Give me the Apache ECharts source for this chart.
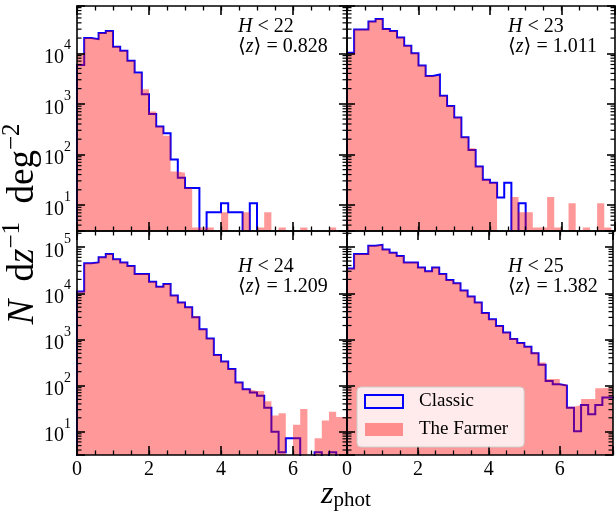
<!DOCTYPE html>
<html><head><meta charset="utf-8">
<script src="https://cdn.jsdelivr.net/npm/echarts@6/dist/echarts.min.js"></script>
<style>html,body{margin:0;padding:0;background:#fff}#c{width:616px;height:512px}</style>
</head><body><div id="c"></div>
<script>
// ---- data: histogram bins start at 0, width 0.2 (values in N dz^-1 deg^-2) ----
const binStart = 0;
const binWidth = 0.2;
const magCuts = ['22', '23', '24', '25'];
const meanZ = ['0.828', '1.011', '1.209', '1.382'];
const xTickLabels = ['0', '2', '4', '6'];

const classicH22 = [5890,19950,19050,25120,27540,13490,11220,7080,4170,1550,631,355,263,79.4,34.7,21.6,21.6,0,7.2,7.2,10.8,7.2,7.2,0,10.8,0,0,0,0,0,0,0,0,0,0,0,0,0];
const farmerH22  = [10000,19950,19050,25120,27540,13490,11220,7080,3980,1950,708,355,234,45.7,43.6,21.6,3.6,3.6,3.6,0,7.2,0,0,7.2,0,3.6,7.2,0,3.6,0,0,3.6,0,0,0,3.6,0,0];

const classicH23 = [10230,29510,29510,42660,47860,30200,27540,20420,14130,10000,5750,3550,3800,1445,912,537,219,123,57.5,31.6,27.5,14.1,27.5,0,10.8,0,0,0,0,0,0,0,0,0,0,0,0,0];
const farmerH23  = [10230,29510,29510,42660,47860,30200,27540,20420,14130,10000,5750,3550,3550,1445,912,537,219,132,57.5,31.6,27.5,0,0,14.4,7.2,7.2,3.6,3.6,14.4,3.6,0,10.8,0,3.6,0,10.8,3.6,0];

const classicH24 = [10960,44670,46770,60260,70790,54950,46770,38900,26300,26300,17780,13800,15850,8910,6310,5010,3020,1660,1050,457,331,229,117,83.2,70.8,60.3,33.1,10.0,3.6,7.2,7.2,0,0,3.6,0,3.6,0,0];
const farmerH24  = [10960,44670,46770,60260,70790,54950,46770,38900,26300,26300,17780,13800,15850,8910,6310,5010,3160,1660,1050,457,331,229,117,83.2,75.9,75.9,45.7,22.4,25.1,0,14.1,30.9,0,7.2,17.4,26.9,20.9,20.9];

const classicH25 = [34670,70790,70790,107150,112200,89130,75860,64570,46770,46770,36310,30200,36310,26300,19500,16600,11480,8510,6310,3720,2750,1950,1410,1020,832,692,501,282,126,107,100,33.1,10.2,38.0,24.0,38.0,55.0,55.0];
const farmerH25  = [34670,70790,70790,107150,112200,89130,75860,64570,46770,46770,36310,30200,36310,26300,19500,16600,11480,8510,6310,3720,2750,1950,1410,1050,832,692,520,316,138,138,107,34.7,38.0,51.0,51.0,87.0,89.0,89.0];

const classicSets = [classicH22, classicH23, classicH24, classicH25];
const farmerSets = [farmerH22, farmerH23, farmerH24, farmerH25];

// ---- layout / style ----
const FONT = '"Liberation Serif","DejaVu Serif",serif';
const X_MIN = 0, X_MAX = 7.5;
const rowYRange = [[3.06, 86100], [3.12, 224000]];
const grids = [
  {left: 77, top: 6, width: 270, height: 225},
  {left: 347, top: 6, width: 268, height: 225},
  {left: 77, top: 231, width: 270, height: 224},
  {left: 347, top: 231, width: 268, height: 224}
];
const BLUE = '#0000ff';
const RED = 'rgba(255,0,0,0.4)';
const EMPTY = 1e-3; // empty bins are drawn below the axis floor (clipped)

function outline(vals) {
  const pts = [[binStart, EMPTY]];
  vals.forEach((v, i) => {
    const x0 = +(binStart + i * binWidth).toFixed(4);
    const x1 = +(binStart + (i + 1) * binWidth).toFixed(4);
    const y = v > 0 ? v : EMPTY;
    pts.push([x0, y], [x1, y]);
  });
  pts.push([+(binStart + vals.length * binWidth).toFixed(4), EMPTY]);
  return pts;
}

const xAxes = [], yAxes = [], series = [];
grids.forEach((g, gi) => {
  const row = gi < 2 ? 0 : 1, col = gi % 2;
  const showX = row === 1, showY = col === 0;
  ['bottom', 'top'].forEach(pos => {
    xAxes.push({
      gridIndex: gi, type: 'value', position: pos, min: X_MIN, max: X_MAX, interval: 2,
      axisLine: {show: true, onZero: false, lineStyle: {color: '#000', width: 1.6}},
      axisTick: {show: true, inside: true, length: 9, lineStyle: {color: '#000', width: 1.6}},
      axisLabel: {show: showX && pos === 'bottom', margin: 5, color: '#000', fontFamily: FONT, fontSize: 20,
        formatter: v => { const i = Math.round(v / 2); return Math.abs(v - 2 * i) < 1e-9 && xTickLabels[i] !== undefined ? xTickLabels[i] : ''; }},
      splitLine: {show: false}, z: 10
    });
    xAxes.push({
      gridIndex: gi, type: 'value', position: pos, min: X_MIN, max: X_MAX, interval: 0.5,
      axisLine: {show: false, onZero: false},
      axisTick: {show: true, inside: true, length: 4.5, lineStyle: {color: '#000', width: 1.3}},
      axisLabel: {show: false}, splitLine: {show: false}, z: 10
    });
  });
  ['left', 'right'].forEach(pos => {
    yAxes.push({
      gridIndex: gi, type: 'log', logBase: 10, position: pos,
      min: rowYRange[row][0], max: rowYRange[row][1],
      axisLine: {show: true, onZero: false, lineStyle: {color: '#000', width: 1.6}},
      axisTick: {show: true, inside: true, length: 8, lineStyle: {color: '#000', width: 1.6}},
      axisLabel: {show: showY && pos === 'left', margin: 6, color: '#000', fontFamily: FONT,
        formatter: v => { const l = Math.log10(v), e = Math.round(l); return Math.abs(l - e) < 1e-6 ? '{b|10}{s|' + e + '}' : ''; },
        rich: {b: {fontFamily: FONT, fontSize: 20, padding: [9, 0, 0, 0], color: '#000'},
               s: {fontFamily: FONT, fontSize: 14, verticalAlign: 'top', color: '#000'}}},
      splitLine: {show: false}, z: 10
    });
  });
  const xi = gi * 4, yi = gi * 2;
  series.push({
    name: 'Classic', type: 'line', xAxisIndex: xi, yAxisIndex: yi, data: outline(classicSets[gi]),
    symbol: 'none', showSymbol: false, color: BLUE, clip: true, z: 2, animation: false,
    lineStyle: {color: BLUE, width: 2, join: 'miter'}
  });
  series.push({
    name: 'The Farmer', type: 'line', xAxisIndex: xi, yAxisIndex: yi, data: outline(farmerSets[gi]),
    symbol: 'none', showSymbol: false, color: RED, clip: true, z: 3, animation: false,
    lineStyle: {width: 0, opacity: 0}, areaStyle: {color: RED, opacity: 1, origin: 'start'}
  });
  // log minor ticks (2..9 x 10^n) on both y spines
  const [lo, hi] = rowYRange[row];
  const minor = [];
  for (let e = 0; e <= 6; e++) for (let k = 2; k <= 9; k++) { const v = k * Math.pow(10, e); if (v > lo && v < hi) minor.push([X_MIN, v]); }
  series.push({
    type: 'custom', xAxisIndex: xi, yAxisIndex: yi, data: minor, z: 11, silent: true, animation: false,
    renderItem: (params, api) => {
      const cs = params.coordSys; const y = api.coord([X_MIN, api.value(1)])[1];
      return {type: 'group', children: [
        {type: 'line', shape: {x1: cs.x, y1: y, x2: cs.x + 4.5, y2: y}, style: {stroke: '#000', lineWidth: 1.2}},
        {type: 'line', shape: {x1: cs.x + cs.width - 4.5, y1: y, x2: cs.x + cs.width, y2: y}, style: {stroke: '#000', lineWidth: 1.2}}
      ]};
    }
  });
});

const graphics = grids.map((g, gi) => ({
  type: 'text', x: g.left + 161, y: gi < 2 ? 17 : 257, z: 20,
  style: {
    text: '{i|H} < ' + magCuts[gi] + '\n⟨{i|z}⟩ = ' + meanZ[gi],
    fontFamily: FONT, fontSize: 20, fill: '#000', lineHeight: 20, align: 'left', verticalAlign: 'top',
    rich: {i: {fontFamily: FONT, fontStyle: 'italic', fontSize: 20, lineHeight: 20}}
  }
}));
graphics.push({
  type: 'text', x: 23, y: 224, rotation: Math.PI / 2, z: 20,
  style: {
    text: '{i|N}{n|  d}{i|z}{s|−1}{n|  deg}{s|−2}', fontFamily: FONT, fontSize: 37, lineHeight: 46, fill: '#000',
    align: 'center', verticalAlign: 'middle',
    rich: {i: {fontFamily: FONT, fontStyle: 'italic', fontSize: 37, lineHeight: 46},
           n: {fontFamily: FONT, fontSize: 37, lineHeight: 46},
           s: {fontFamily: FONT, fontSize: 25, lineHeight: 25, verticalAlign: 'top'}}
  }
});
graphics.push({
  type: 'text', x: 346, y: 495, z: 20,
  style: {
    text: '{z|z}{p|phot}', fontFamily: FONT, fill: '#000', align: 'center', verticalAlign: 'middle',
    rich: {z: {fontFamily: FONT, fontStyle: 'italic', fontSize: 32, verticalAlign: 'top', lineHeight: 32},
           p: {fontFamily: FONT, fontSize: 21, verticalAlign: 'bottom', lineHeight: 21, padding: [15, 0, 0, 0]}}
  }
});

const chart = echarts.init(document.getElementById('c'), null, {renderer: 'canvas'});
chart.setOption({
  animation: false,
  backgroundColor: '#fff',
  grid: grids.map(g => Object.assign({containLabel: false}, g)),
  xAxis: xAxes, yAxis: yAxes, series: series,
  legend: {
    left: 357, top: 387, orient: 'vertical', selectedMode: false, z: 30,
    itemWidth: 38, itemHeight: 13, itemGap: 9, padding: [5, 16, 8, 7],
    backgroundColor: 'rgba(255,255,255,0.8)', borderColor: '#cccccc', borderWidth: 1, borderRadius: 4,
    textStyle: {fontFamily: FONT, fontSize: 19, color: '#000', padding: [0, 0, 0, 11]},
    data: [
      {name: 'Classic', icon: 'rect', itemStyle: {color: 'rgba(255,255,255,0)', borderColor: BLUE, borderWidth: 2}},
      {name: 'The Farmer', icon: 'rect', itemStyle: {color: RED, borderWidth: 0}}
    ]
  },
  graphic: {elements: graphics}
});
</script></body></html>
